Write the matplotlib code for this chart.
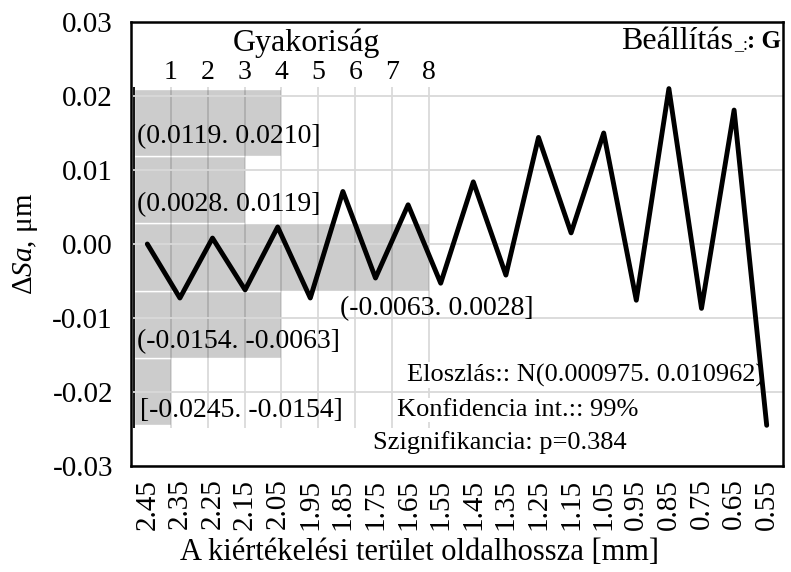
import matplotlib
matplotlib.use("Agg")
import matplotlib.pyplot as plt
import numpy as np

plt.rcParams['font.family'] = ['Liberation Serif', 'DejaVu Serif']
plt.rcParams['mathtext.fontset'] = 'custom'
plt.rcParams['mathtext.rm'] = 'Liberation Serif'
plt.rcParams['mathtext.it'] = 'Liberation Serif:italic'
plt.rcParams['axes.unicode_minus'] = False

# side length of the evaluated area [mm] and the Sa difference [um]
side_lengths = ["2.45", "2.35", "2.25", "2.15", "2.05", "1.95", "1.85", "1.75", "1.65", "1.55",
                "1.45", "1.35", "1.25", "1.15", "1.05", "0.95", "0.85", "0.75", "0.65", "0.55"]
delta_sa = [0.0000, -0.0073, 0.0008, -0.0062, 0.0023, -0.0073, 0.0071, -0.0046, 0.0053, -0.0053,
            0.0084, -0.0042, 0.0144, 0.0015, 0.0150, -0.0076, 0.0210, -0.0087, 0.0181, -0.0245]

# histogram of delta_sa (bins from bottom to top)
bin_edges = [-0.0245, -0.0154, -0.0063, 0.0028, 0.0119, 0.0210]
bin_counts = [1, 4, 8, 3, 4]
bin_labels = ["[-0.0245. -0.0154]", "(-0.0154. -0.0063]", "(-0.0063. 0.0028]",
              "(0.0028. 0.0119]", "(0.0119. 0.0210]"]
freq_ticks = [1, 2, 3, 4, 5, 6, 7, 8]

stat_lines = ["Eloszlás:: N(0.000975. 0.010962)", "Konfidencia int.:: 99%", "Szignifikancia: p=0.384"]

FS = 21

fig = plt.figure(figsize=(7.91, 5.72), dpi=100)
L, B, W, H = 131 / 791, 106 / 572, 652 / 791, 444 / 572
ax = fig.add_axes([L, B, W, H])
ylo, yhi = -0.03, 0.03

# histogram axes sits under the main one, same y scale but shorter so the
# frequency labels end up inside the frame
h2_px = 466 - 86
ax2 = fig.add_axes([L, B, W, h2_px / 572])
ax2.set_ylim(ylo, ylo + (yhi - ylo) * h2_px / 444)
ax2.set_xlim(-0.08, 17.6)
ax.set_zorder(2)
ax.patch.set_visible(False)

edges = np.array(bin_edges)
centers = (edges[:-1] + edges[1:]) / 2
ax2.barh(centers, bin_counts, height=np.diff(edges), left=0, color='#cccccc',
         edgecolor='white', linewidth=1.0, zorder=1)
ax2.vlines(freq_ticks, edges[0] - 0.0004, edges[-1] + 0.0002, color='black', alpha=0.15, lw=1.3, zorder=2)
ax2.vlines(0, edges[0] - 0.0004, edges[-1] + 0.0002, color='black', lw=1.3, zorder=3)
for s in ax2.spines.values():
    s.set_visible(False)
ax2.patch.set_visible(False)
ax2.set_yticks([])
ax2.xaxis.set_ticks_position('top')
ax2.set_xticks(freq_ticks)
ax2.set_xticklabels([str(t) for t in freq_ticks], fontsize=20)
ax2.tick_params(axis='x', length=0, pad=1)
ax2.set_xlabel("Gyakoriság", fontsize=23)
ax2.xaxis.set_label_position('top')
ax2.xaxis.label.set_va('center')
ax2.xaxis.set_label_coords((306 - 131) / 652, (466 - 43) / h2_px)

# main line
x = np.arange(len(side_lengths))
ax.plot(x, delta_sa, color='black', lw=3.5, solid_capstyle='round', zorder=5)
ax.set_xlim(-0.5, len(side_lengths) - 0.5)
ax.set_ylim(ylo, yhi)
ax.set_xticks(x)
ax.set_xticklabels(side_lengths, rotation=90, fontsize=FS)
ax.set_yticks(np.arange(-0.03, 0.031, 0.01))
ax.yaxis.set_major_formatter(matplotlib.ticker.FormatStrFormatter('%.2f'))
ax.tick_params(axis='both', length=0, labelsize=FS)
ax.tick_params(axis='x', pad=9)
ax.tick_params(axis='y', pad=13)
ax.grid(axis='y', color='#d9d9d9', lw=1.3, zorder=0)
for s in ax.spines.values():
    s.set_linewidth(1.8)
    s.set_zorder(6)
ax.set_xlabel("A kiértékelési terület oldalhossza [mm]", fontsize=22)
ax.xaxis.set_label_coords((420 - 131) / 652, (466 - 552) / 444)
ax.xaxis.label.set_va('center')
ax.set_ylabel("Δ$\\mathit{Sa}$, μm", fontsize=FS, labelpad=9)

# bin range labels
label_pos = [(0.0138, 0.126), (0.0092, 0.280), (0.3206, 0.3536), (0.0092, 0.5878), (0.0092, 0.7417)]
for (tx, ty), lab in zip(label_pos, bin_labels):
    ax.text(tx, ty, lab, transform=ax.transAxes, fontsize=20, ha='left', va='center', zorder=3)

# distribution summary
stat_pos = [(0.4233, 0.205), (0.408, 0.126), (0.371, 0.054)]
for (tx, ty), s in zip(stat_pos, stat_lines):
    ax.text(tx, ty, s, transform=ax.transAxes, fontsize=19, ha='left', va='center', zorder=3,
            bbox=dict(facecolor='white', edgecolor='none', pad=1))

ax.text(0.923, 0.955, "Beállítás", transform=ax.transAxes, fontsize=23, ha='right', va='center')
ax.text(0.925, 0.948, "_:", transform=ax.transAxes, fontsize=13, ha='left', va='center')
ax.text(0.997, 0.955, ": G", transform=ax.transAxes, fontsize=18, ha='right', va='center',
        fontweight='bold')

fig.savefig("out.png", dpi=100)
